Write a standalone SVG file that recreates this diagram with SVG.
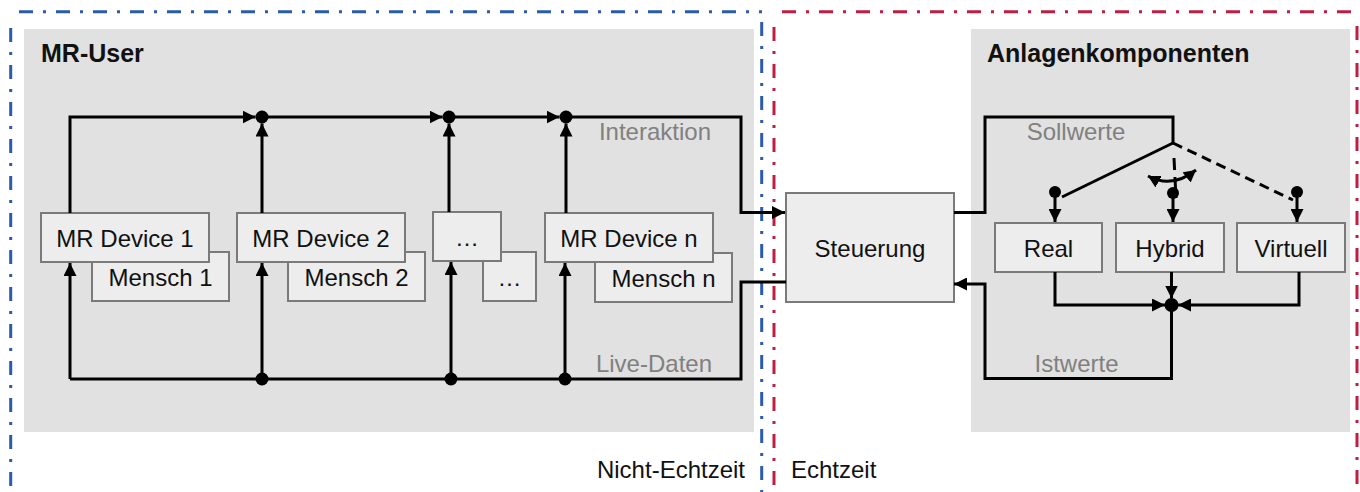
<svg xmlns="http://www.w3.org/2000/svg" width="1360" height="492" viewBox="0 0 1360 492">
<style>
text{font-family:"Liberation Sans",Arial,sans-serif;font-size:24px;fill:#111}
.title{font-weight:bold;font-size:25px}
.lbl{fill:#808080}
.panel{fill:#e0e1e0}
.box{fill:#ededed;stroke:#7a7a7a;stroke-width:2}
.ln{fill:none;stroke:#000;stroke-width:3}
.ar{marker-end:url(#arr)}
.dash{stroke-dasharray:10 6}
.bdr{fill:none;stroke-width:3;stroke-dasharray:14 10 3 10}
.blue{stroke:#2b5cab}
.red{stroke:#bf1e42}
</style>
<defs>
<marker id="arr" markerUnits="userSpaceOnUse" markerWidth="14" markerHeight="13" refX="13" refY="6.5" orient="auto"><path d="M0,0 L13,6.5 L0,13 z" fill="#000"/></marker>
<marker id="arrs" markerUnits="userSpaceOnUse" markerWidth="14" markerHeight="13" refX="12" refY="6.5" orient="auto-start-reverse"><path d="M0,0 L12,6.5 L0,13 z" fill="#000"/></marker>
</defs>

<g id="panels">
<rect class="panel" x="24" y="29" width="730" height="403"/>
<rect class="panel" x="971" y="29" width="379" height="403"/>
<text class="title" x="41" y="62">MR-User</text>
<text class="title" x="987" y="62">Anlagenkomponenten</text>
</g>

<g id="borders">
<path class="bdr blue" d="M19,11.7 H762"/>
<path class="bdr blue" d="M10.7,28 V492"/>
<path class="bdr blue" d="M761.7,22 V492"/>
<path class="bdr red" d="M782,11.7 H1357"/>
<path class="bdr red" d="M774,27 V492"/>
<path class="bdr red" d="M1357,26 V492"/>
</g>

<g id="mensch1"><rect class="box" x="92" y="252" width="137" height="49"/><text x="160.5" y="286" text-anchor="middle">Mensch 1</text></g>
<g id="device1"><rect class="box" x="41" y="213" width="168" height="49"/><text x="125" y="247" text-anchor="middle">MR Device 1</text></g>
<g id="mensch2"><rect class="box" x="288" y="252" width="137" height="49"/><text x="356.5" y="286" text-anchor="middle">Mensch 2</text></g>
<g id="device2"><rect class="box" x="237" y="213" width="168" height="49"/><text x="321" y="247" text-anchor="middle">MR Device 2</text></g>
<g id="mensch_dots"><rect class="box" x="483" y="252" width="53" height="49"/><text x="509.5" y="286" text-anchor="middle">…</text></g>
<g id="device_dots"><rect class="box" x="433" y="212" width="68" height="49"/><text x="467" y="246" text-anchor="middle">…</text></g>
<g id="menschn"><rect class="box" x="595" y="253" width="137" height="49"/><text x="663.5" y="287" text-anchor="middle">Mensch n</text></g>
<g id="devicen"><rect class="box" x="545" y="213" width="168" height="49"/><text x="629" y="247" text-anchor="middle">MR Device n</text></g>

<g id="steuerung"><rect class="box" x="786" y="193" width="168" height="109"/><text x="870" y="257" text-anchor="middle">Steuerung</text></g>
<g id="real"><rect class="box" x="995" y="223" width="107" height="49"/><text x="1048.5" y="257" text-anchor="middle">Real</text></g>
<g id="hybrid"><rect class="box" x="1116" y="223" width="108" height="49"/><text x="1170" y="257" text-anchor="middle">Hybrid</text></g>
<g id="virtuell"><rect class="box" x="1237" y="223" width="108" height="49"/><text x="1291" y="257" text-anchor="middle">Virtuell</text></g>

<g id="labels">
<text class="lbl" x="711" y="140" text-anchor="end">Interaktion</text>
<text class="lbl" x="712" y="372" text-anchor="end">Live-Daten</text>
<text class="lbl" x="1076" y="140" text-anchor="middle">Sollwerte</text>
<text class="lbl" x="1076.5" y="372" text-anchor="middle">Istwerte</text>
<text x="745" y="478" text-anchor="end">Nicht-Echtzeit</text>
<text x="791" y="478">Echtzeit</text>
</g>

<g id="connectors">
<path class="ln ar" d="M70,213 V117 H255.5"/>
<path class="ln ar" d="M262,117 H442.5"/>
<path class="ln ar" d="M449,117 H559.5"/>
<path class="ln ar" d="M566,117 H741 V212.5 H785"/>
<path class="ln ar" d="M262,213 V123.5"/>
<path class="ln ar" d="M449,212 V123.5"/>
<path class="ln ar" d="M566,213 V123.5"/>
<path class="ln" d="M70,379 H741 V282 H786"/>
<path class="ln ar" d="M70,379 V263"/>
<path class="ln ar" d="M262,379 V263"/>
<path class="ln ar" d="M451,379 V262"/>
<path class="ln ar" d="M565,379 V263"/>
<circle cx="262" cy="117" r="6.5"/>
<circle cx="449" cy="117" r="6.5"/>
<circle cx="566" cy="117" r="6.5"/>
<circle cx="262" cy="379" r="6.5"/>
<circle cx="451" cy="379" r="6.5"/>
<circle cx="565" cy="379" r="6.5"/>

<path class="ln" d="M954,212.5 H985 V117 H1173 V143"/>
<path class="ln" d="M1173,143 L1062,197"/>
<path class="ln dash" d="M1173,143 L1293,200"/>
<path class="ln" d="M1174,158 L1176,198" stroke-dasharray="12 7"/>
<path class="ln" d="M1148,176 Q1172,189 1196,170" marker-start="url(#arrs)" marker-end="url(#arrs)"/>
<circle cx="1055" cy="192" r="6"/>
<circle cx="1173" cy="193" r="6"/>
<circle cx="1297" cy="192" r="6"/>
<path class="ln ar" d="M1055,192 V222"/>
<path class="ln ar" d="M1173,193 V222"/>
<path class="ln ar" d="M1297,192 V222"/>

<path class="ln ar" d="M1055,272 V305 H1165"/>
<path class="ln ar" d="M1299,272 V305 H1178"/>
<path class="ln ar" d="M1171.5,272 V298.5"/>
<circle cx="1171.5" cy="305" r="7"/>
<path class="ln ar" d="M1171.5,305 V378.5 H985 V284 H954"/>
</g>
</svg>
